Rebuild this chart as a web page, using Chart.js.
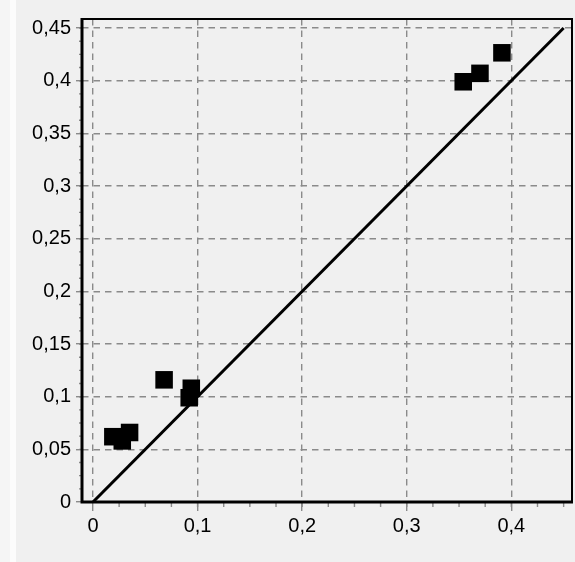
<!DOCTYPE html>
<html>
<head>
<meta charset="utf-8">
<script src="https://cdn.jsdelivr.net/npm/chart.js@4.4.1/dist/chart.umd.min.js"></script>
<style>
  html, body { margin: 0; padding: 0; }
  body {
    width: 575px; height: 562px; overflow: hidden;
    background: linear-gradient(to right, #f5f5f5 0 10px, #fcfcfc 10px 16px, #f0f0f0 16px);
  }
  canvas { display: block; }
</style>
</head>
<body>
<canvas id="chart" width="575" height="562"></canvas>
<script>
  // measured points (x, y)
  var pointX = [0.019, 0.028, 0.035, 0.068, 0.094, 0.092, 0.354, 0.370, 0.391];
  var pointY = [0.062, 0.058, 0.066, 0.116, 0.108, 0.099, 0.399, 0.407, 0.4265];
  // reference line y = x
  var lineX = [0, 0.45];
  var lineY = [0, 0.45];
  var xTicks = [0, 0.1, 0.2, 0.3, 0.4];
  var yTicks = [0, 0.05, 0.1, 0.15, 0.2, 0.25, 0.3, 0.35, 0.4, 0.45];

  function fmt(v) {
    var s = (Math.round(v * 1000) / 1000).toString();
    return s.replace('.', ',');
  }

  var pts = [];
  for (var i = 0; i < pointX.length; i++) pts.push({ x: pointX[i], y: pointY[i] });
  var ln = [];
  for (var j = 0; j < lineX.length; j++) ln.push({ x: lineX[j], y: lineY[j] });

  // frame + minor ticks
  var framePlugin = {
    id: 'frame',
    afterDraw: function(chart) {
      var ctx = chart.ctx, a = chart.chartArea;
      var xs = chart.scales.x, ys = chart.scales.y;
      ctx.save();
      ctx.strokeStyle = '#8a8a8a';
      ctx.lineWidth = 1.4;
      ctx.beginPath();
      var v;
      for (v = 0.0125; v < 0.455; v += 0.0125) {
        var py = ys.getPixelForValue(v);
        ctx.moveTo(a.left - 3, py); ctx.lineTo(a.left, py);
      }
      for (v = 0.025; v < 0.455; v += 0.025) {
        var px = xs.getPixelForValue(v);
        ctx.moveTo(px, a.bottom); ctx.lineTo(px, a.bottom + 5);
      }
      ctx.stroke();
      ctx.strokeStyle = '#000';
      ctx.lineWidth = 2;
      ctx.beginPath();
      ctx.moveTo(a.left, a.top); ctx.lineTo(a.right, a.top); ctx.lineTo(a.right, a.bottom);
      ctx.stroke();
      ctx.lineWidth = 3;
      ctx.beginPath();
      ctx.moveTo(a.left, a.top - 1); ctx.lineTo(a.left, a.bottom); ctx.lineTo(a.right + 1, a.bottom);
      ctx.stroke();
      ctx.restore();
    }
  };

  Chart.defaults.font.family = '"Liberation Sans", Arial, sans-serif';
  Chart.defaults.font.size = 20;
  Chart.defaults.color = '#000';

  new Chart(document.getElementById('chart'), {
    type: 'scatter',
    data: {
      datasets: [{
        type: 'scatter',
        data: pts,
        pointStyle: 'rect',
        pointRadius: 12.4,
        pointHoverRadius: 12.4,
        backgroundColor: '#000',
        borderColor: '#000',
        borderWidth: 0
      }, {
        type: 'line',
        data: ln,
        borderColor: '#000',
        borderWidth: 3,
        pointRadius: 0,
        fill: false
      }]
    },
    options: {
      responsive: false,
      animation: false,
      devicePixelRatio: 1,
      layout: { autoPadding: false, padding: { top: 19, right: 3, left: 0, bottom: 0 } },
      plugins: { legend: { display: false }, tooltip: { enabled: false } },
      scales: {
        x: {
          type: 'linear',
          min: -0.0105,
          max: 0.458,
          afterFit: function(s) { s.height = 60; },
          afterBuildTicks: function(s) { s.ticks = xTicks.map(function(v) { return { value: v }; }); },
          ticks: { callback: fmt, padding: 3, maxRotation: 0, autoSkip: false, includeBounds: false },
          grid: { color: '#8a8a8a', lineWidth: 1.4, tickLength: 9, tickColor: '#8a8a8a', tickWidth: 1.4, tickBorderDash: [] },
          border: { display: false, dash: [6.5, 5] }
        },
        y: {
          type: 'linear',
          min: 0,
          max: 0.4586,
          afterFit: function(s) { s.width = 82; },
          afterBuildTicks: function(s) { s.ticks = yTicks.map(function(v) { return { value: v }; }); },
          ticks: { callback: fmt, padding: 5, autoSkip: false, includeBounds: false },
          grid: { color: '#8a8a8a', lineWidth: 1.4, tickLength: 6, tickColor: '#8a8a8a', tickWidth: 1.4, tickBorderDash: [] },
          border: { display: false, dash: [6.5, 5] }
        }
      }
    },
    plugins: [framePlugin]
  });
</script>
</body>
</html>
